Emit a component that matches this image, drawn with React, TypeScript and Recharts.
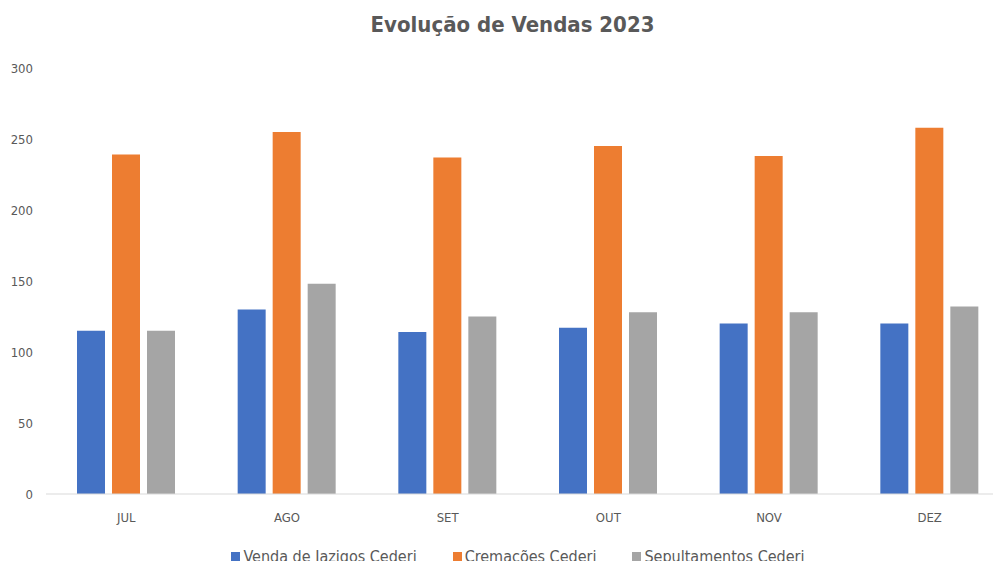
import { BarChart, Bar, XAxis, YAxis } from 'recharts'

const months = ['JUL', 'AGO', 'SET', 'OUT', 'NOV', 'DEZ']
const jazigos = [115, 130, 114, 117, 120, 120]
const cremacoes = [239, 255, 237, 245, 238, 258]
const sepultamentos = [115, 148, 125, 128, 128, 132]
const yTicks = [0, 50, 100, 150, 200, 250, 300]

const series = [
  { key: 'jazigos', name: 'Venda de Jazigos Cederj', color: '#4472C4' },
  { key: 'cremacoes', name: 'Cremações Cederj', color: '#ED7D31' },
  { key: 'sepultamentos', name: 'Sepultamentos Cederj', color: '#A5A5A5' },
]

const data = months.map((m, i) => ({
  month: m,
  jazigos: jazigos[i],
  cremacoes: cremacoes[i],
  sepultamentos: sepultamentos[i],
}))

const font = '"DejaVu Sans Condensed", Roboto, "Liberation Sans", sans-serif'
const textColor = '#595959'

export default function App() {
  return (
    <div style={{ margin: -8, width: 1001, height: 569, overflow: 'hidden', position: 'relative', background: '#fff', fontFamily: font }}>
      <div style={{ position: 'absolute', top: 12, left: 0, width: 1025, textAlign: 'center', fontSize: 22, fontWeight: 'bold', color: textColor }}>
        Evolução de Vendas 2023
      </div>
      <BarChart width={1010} height={569} data={data} margin={{ top: 68, right: 0, bottom: 45, left: 0 }} barSize={28} barGap={7}>
        <XAxis
          dataKey="month"
          tickLine={false}
          tickSize={0}
          tickMargin={19}
          stroke="#d9d9d9"
          tick={{ fill: textColor, fontSize: 13, fontFamily: font }}
          height={30}
        />
        <YAxis
          domain={[0, 300]}
          ticks={yTicks}
          axisLine={false}
          tickLine={false}
          tickSize={0}
          tickMargin={13}
          width={46}
          tick={{ fill: textColor, fontSize: 13, fontFamily: font }}
        />
        {series.map(s => (
          <Bar key={s.key} dataKey={s.key} name={s.name} fill={s.color} isAnimationActive={false} />
        ))}
      </BarChart>
      <div style={{ position: 'absolute', top: 547, left: 0, width: 1036, height: 19, lineHeight: '19px', display: 'flex', justifyContent: 'center', gap: 36, fontSize: 16, color: textColor }}>
        {series.map(s => (
          <div key={s.key} style={{ display: 'flex', alignItems: 'center' }}>
            <span style={{ display: 'inline-block', width: 9, height: 9, background: s.color, marginRight: 3 }} />
            {s.name}
          </div>
        ))}
      </div>
    </div>
  )
}
